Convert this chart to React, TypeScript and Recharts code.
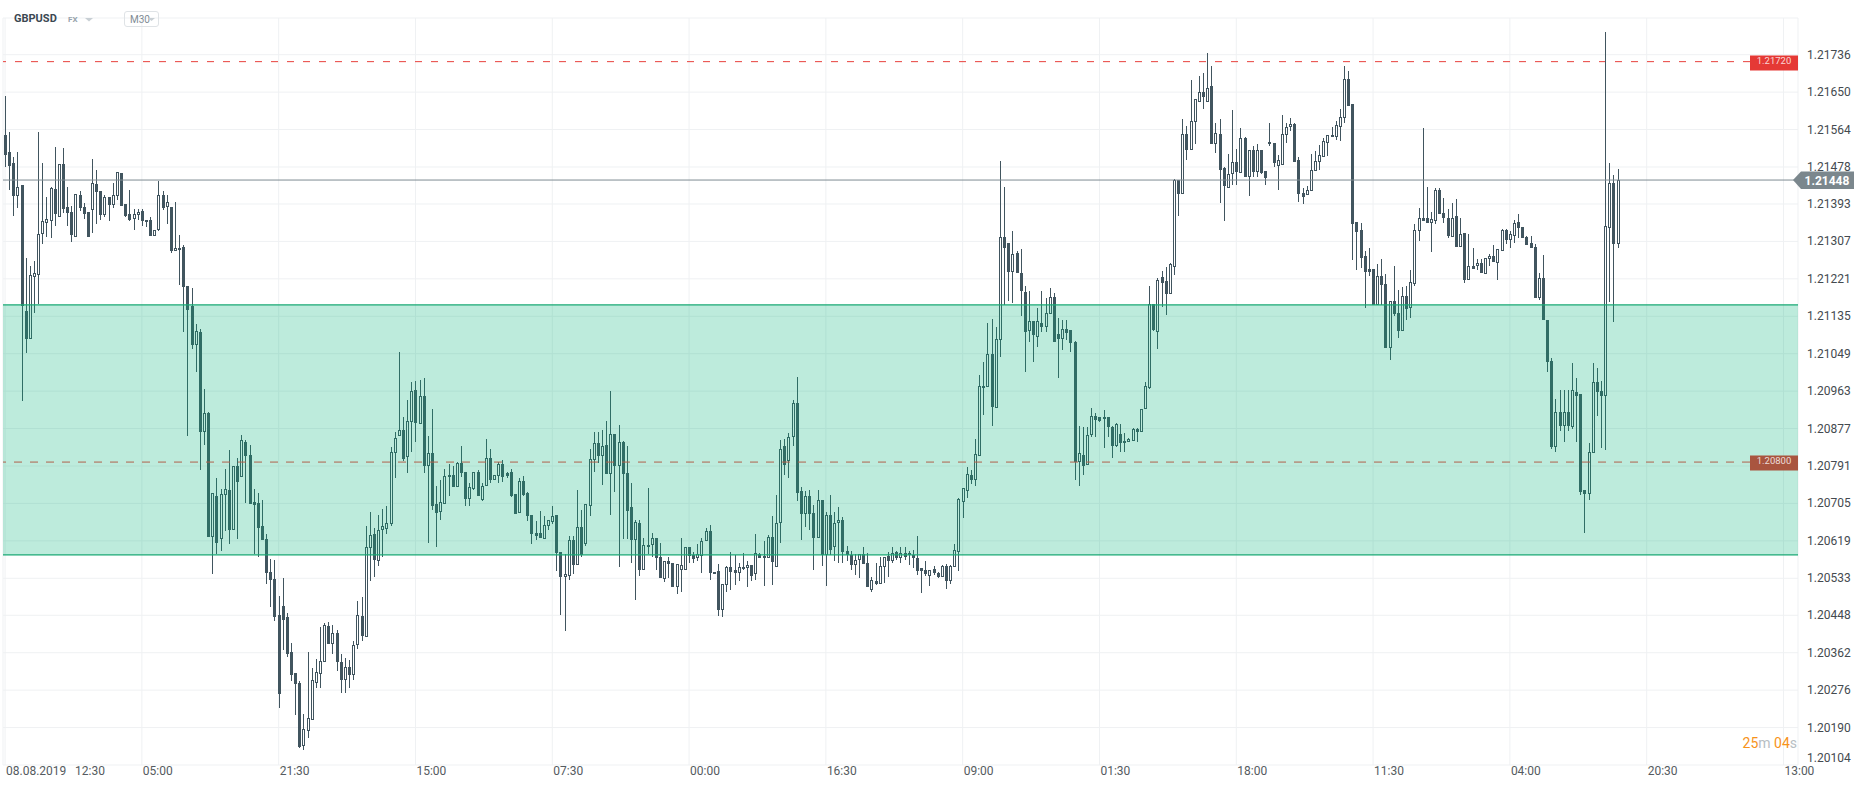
import { ComposedChart, Bar, XAxis, YAxis, CartesianGrid, ReferenceArea, ReferenceLine } from 'recharts';

// GBPUSD, M30 candles: [open, high, low, close]
type Ohlc = [number, number, number, number];

// 08.08 12:30 -> weekend low
const candlesA: Ohlc[] = [
  [1.21551, 1.2164, 1.21478, 1.21505], [1.21512, 1.21558, 1.21425, 1.21481], [1.21488, 1.215, 1.21365, 1.21412],
  [1.21412, 1.21512, 1.21383, 1.21431], [1.21436, 1.21436, 1.20941, 1.21158], [1.21148, 1.21268, 1.2105, 1.21082],
  [1.21082, 1.2125, 1.21082, 1.2123], [1.21226, 1.21263, 1.21143, 1.21235], [1.2123, 1.21558, 1.21164, 1.21325],
  [1.21323, 1.21488, 1.213, 1.21353], [1.2135, 1.21408, 1.21318, 1.21359], [1.21355, 1.21432, 1.21315, 1.21429],
  [1.21427, 1.21524, 1.21342, 1.2137], [1.21363, 1.21484, 1.21363, 1.21484], [1.21484, 1.21521, 1.21373, 1.21382],
  [1.21385, 1.21432, 1.21342, 1.21372], [1.21375, 1.21388, 1.21305, 1.21322], [1.21318, 1.21415, 1.21318, 1.21415],
  [1.21414, 1.21422, 1.21378, 1.21383], [1.21387, 1.21395, 1.21358, 1.21369], [1.21374, 1.21374, 1.21317, 1.21317],
  [1.2138, 1.21496, 1.21326, 1.21442], [1.2144, 1.2147, 1.21347, 1.21421], [1.21422, 1.21422, 1.21356, 1.21368],
  [1.21367, 1.21413, 1.21362, 1.21408], [1.21408, 1.21408, 1.21355, 1.21391], [1.21391, 1.21442, 1.21384, 1.21414],
  [1.21412, 1.21467, 1.21401, 1.21467], [1.21464, 1.21464, 1.21388, 1.21388], [1.21392, 1.21394, 1.21363, 1.21366],
  [1.21371, 1.21424, 1.21354, 1.21357], [1.21358, 1.21382, 1.21333, 1.21371], [1.21368, 1.21382, 1.21357, 1.21375],
  [1.21376, 1.21381, 1.21342, 1.21355], [1.21356, 1.21356, 1.2134, 1.21352], [1.21357, 1.21362, 1.2132, 1.2132],
  [1.2132, 1.21333, 1.2132, 1.21333], [1.21333, 1.21446, 1.21331, 1.21413], [1.21413, 1.21422, 1.2138, 1.21383],
  [1.21387, 1.21413, 1.21348, 1.21397], [1.21385, 1.21387, 1.2128, 1.21285], [1.21286, 1.21397, 1.21286, 1.21291],
  [1.21288, 1.21321, 1.21206, 1.21293], [1.21295, 1.21298, 1.21098, 1.21202], [1.21204, 1.21204, 1.2086, 1.21149],
  [1.21158, 1.212, 1.2106, 1.21068], [1.21068, 1.21118, 1.21006, 1.21101], [1.21098, 1.21106, 1.20782, 1.2087],
  [1.20868, 1.20968, 1.2084, 1.20912], [1.20912, 1.20916, 1.20628, 1.20628], [1.20628, 1.20728, 1.20542, 1.20728],
  [1.20721, 1.20764, 1.20588, 1.20615], [1.20623, 1.20738, 1.20596, 1.20726], [1.20725, 1.20783, 1.20641, 1.20737],
  [1.20735, 1.20828, 1.20612, 1.20645], [1.20645, 1.20791, 1.20645, 1.20791], [1.2079, 1.2081, 1.20623, 1.20755],
  [1.20766, 1.20862, 1.20766, 1.2085], [1.20847, 1.2085, 1.20706, 1.20813], [1.20816, 1.2084, 1.20704, 1.20704],
  [1.20708, 1.20738, 1.20588, 1.20702], [1.20707, 1.20728, 1.20583, 1.20648], [1.20652, 1.20712, 1.20622, 1.20622],
  [1.20624, 1.20634, 1.2052, 1.20545], [1.20548, 1.20578, 1.20468, 1.20528], [1.20531, 1.20574, 1.20436, 1.20445],
  [1.20449, 1.20493, 1.20236, 1.20268], [1.2047, 1.20534, 1.20368, 1.20437], [1.20444, 1.20454, 1.20352, 1.20358],
  [1.20364, 1.20384, 1.20298, 1.2031], [1.20316, 1.20316, 1.2022, 1.2029], [1.20293, 1.20298, 1.20144, 1.20146],
  [1.20148, 1.20222, 1.20138, 1.20186], [1.20183, 1.20364, 1.20166, 1.20211], [1.20208, 1.20328, 1.20208, 1.203],
  [1.20293, 1.20348, 1.20281, 1.20318], [1.20312, 1.2042, 1.20281, 1.20342], [1.2034, 1.2043, 1.2034, 1.20426],
  [1.20424, 1.20432, 1.20381, 1.20381],
];

// recovery into the zone
const candlesB: Ohlc[] = [
  [1.20381, 1.20425, 1.2036, 1.20407], [1.20407, 1.20415, 1.2032, 1.2034], [1.2034, 1.2036, 1.2027, 1.203],
  [1.203, 1.2035, 1.2027, 1.2033], [1.2033, 1.20345, 1.2028, 1.2031], [1.2031, 1.2039, 1.203, 1.2038],
  [1.2038, 1.20481, 1.2037, 1.20449], [1.20447, 1.20491, 1.2039, 1.20401], [1.20399, 1.20654, 1.20399, 1.20605],
  [1.20602, 1.20686, 1.20526, 1.20633], [1.20635, 1.20649, 1.20535, 1.20574], [1.20572, 1.20679, 1.20562, 1.20644],
  [1.20643, 1.20692, 1.20583, 1.20653], [1.20647, 1.20698, 1.20634, 1.2066], [1.20657, 1.20834, 1.20652, 1.20824],
  [1.20821, 1.2087, 1.20763, 1.20856], [1.20859, 1.21052, 1.20859, 1.20874], [1.20874, 1.20903, 1.20803, 1.20808],
  [1.20811, 1.20943, 1.20775, 1.20895], [1.20893, 1.20983, 1.20824, 1.20964], [1.20966, 1.20987, 1.20846, 1.2089],
  [1.20888, 1.20988, 1.20888, 1.20952], [1.20952, 1.20993, 1.20775, 1.2079], [1.2079, 1.2086, 1.20614, 1.20821],
  [1.20821, 1.20922, 1.20689, 1.207], [1.20704, 1.20745, 1.20606, 1.20683], [1.20685, 1.20758, 1.20666, 1.20708],
  [1.20703, 1.20784, 1.20703, 1.20769], [1.20765, 1.20796, 1.20723, 1.20771], [1.20771, 1.2079, 1.20742, 1.20742],
  [1.20742, 1.208, 1.20742, 1.20798], [1.20798, 1.20837, 1.20765, 1.20775], [1.20777, 1.20777, 1.207, 1.20716],
  [1.20716, 1.20752, 1.20698, 1.20742], [1.20739, 1.20777, 1.20736, 1.20777], [1.20777, 1.20782, 1.20721, 1.20721],
  [1.20712, 1.20752, 1.2071, 1.20745], [1.20746, 1.20854, 1.20744, 1.20809], [1.20809, 1.20831, 1.20752, 1.20758],
  [1.20758, 1.2077, 1.20758, 1.2077], [1.20769, 1.20801, 1.20753, 1.20796], [1.20796, 1.20805, 1.20755, 1.20765],
  [1.20775, 1.20778, 1.20763, 1.20769], [1.20777, 1.20784, 1.20719, 1.20723], [1.20727, 1.20727, 1.20681, 1.20681],
  [1.20683, 1.20763, 1.20683, 1.20757], [1.20757, 1.20769, 1.20723, 1.20725], [1.20729, 1.20731, 1.20664, 1.20675],
  [1.20679, 1.20679, 1.20611, 1.20634], [1.20638, 1.20665, 1.2062, 1.20631], [1.20638, 1.20688, 1.20625, 1.20625],
  [1.20623, 1.20677, 1.20623, 1.20655], [1.20652, 1.20667, 1.20644, 1.20667], [1.20663, 1.207, 1.20657, 1.20676],
  [1.20679, 1.20679, 1.20549, 1.2059], [1.20594, 1.20594, 1.20449, 1.20536], [1.20536, 1.20589, 1.20411, 1.20543],
  [1.20538, 1.20631, 1.20528, 1.20621], [1.20621, 1.20631, 1.20543, 1.20564], [1.20564, 1.20736, 1.20564, 1.20651],
  [1.20651, 1.2069, 1.20583, 1.20587], [1.20612, 1.20704, 1.20608, 1.20704], [1.207, 1.20831, 1.20675, 1.20807],
  [1.20805, 1.2087, 1.20778, 1.20844], [1.20844, 1.2087, 1.20798, 1.20814], [1.20814, 1.20874, 1.20748, 1.20837],
  [1.2084, 1.20895, 1.20773, 1.20773], [1.20773, 1.20964, 1.20679, 1.20864], [1.20864, 1.20864, 1.20731, 1.2079],
  [1.2079, 1.20886, 1.20559, 1.20847], [1.20847, 1.20849, 1.20624, 1.20772], [1.20775, 1.20836, 1.20624, 1.20688],
  [1.20696, 1.20752, 1.20569, 1.2062], [1.2062, 1.20667, 1.20482, 1.20662], [1.2066, 1.20667, 1.20539, 1.20551],
  [1.20551, 1.20625, 1.20551, 1.20609], [1.20604, 1.2074, 1.20589, 1.20609],
];

// sideways along the bottom of the zone
const candlesC: Ohlc[] = [
  [1.20609, 1.20636, 1.20582, 1.20625], [1.20625, 1.20625, 1.20552, 1.20579], [1.20581, 1.20613, 1.20533, 1.20533],
  [1.20531, 1.20573, 1.20525, 1.20573], [1.20573, 1.20582, 1.20534, 1.20566], [1.20569, 1.20569, 1.20514, 1.20514],
  [1.20512, 1.20565, 1.20497, 1.20565], [1.20553, 1.20625, 1.20501, 1.20564], [1.20552, 1.20605, 1.20552, 1.20605],
  [1.20604, 1.20604, 1.20569, 1.20584], [1.20586, 1.20594, 1.20569, 1.20577], [1.20579, 1.20611, 1.20573, 1.20588],
  [1.20584, 1.20625, 1.20544, 1.20619], [1.20619, 1.20648, 1.20619, 1.20642], [1.20642, 1.20655, 1.20529, 1.20544],
  [1.20544, 1.20548, 1.20544, 1.20548], [1.2055, 1.20565, 1.20446, 1.20461], [1.20461, 1.20519, 1.20443, 1.20519],
  [1.20517, 1.20561, 1.20501, 1.20559], [1.20559, 1.20594, 1.20506, 1.20548], [1.20552, 1.20586, 1.20517, 1.20546],
  [1.20546, 1.20567, 1.20527, 1.20558], [1.20554, 1.20592, 1.20552, 1.2056], [1.20557, 1.20573, 1.20514, 1.20564],
  [1.20563, 1.20563, 1.20527, 1.20539], [1.20542, 1.20634, 1.2053, 1.2059], [1.20588, 1.2059, 1.20579, 1.2058],
  [1.20585, 1.20618, 1.20516, 1.20579], [1.20579, 1.20632, 1.20579, 1.20627], [1.20627, 1.20676, 1.20517, 1.20571],
  [1.20559, 1.20724, 1.20559, 1.20661], [1.20659, 1.20851, 1.20613, 1.20831], [1.20837, 1.20852, 1.2077, 1.20793],
  [1.20802, 1.20866, 1.20763, 1.20857], [1.20857, 1.20943, 1.20837, 1.20935], [1.20935, 1.20995, 1.20711, 1.2073],
  [1.20733, 1.20743, 1.20622, 1.2068], [1.2068, 1.20733, 1.20651, 1.20722], [1.20722, 1.20736, 1.20644, 1.2068],
  [1.20682, 1.20701, 1.20552, 1.20625], [1.20625, 1.20736, 1.20625, 1.20713], [1.20713, 1.20713, 1.20561, 1.20586],
  [1.20586, 1.20686, 1.20515, 1.20678], [1.20678, 1.20724, 1.20586, 1.20599], [1.20604, 1.20686, 1.20573, 1.20659],
  [1.20659, 1.20696, 1.20567, 1.20667], [1.20667, 1.20674, 1.20567, 1.20594], [1.20596, 1.20607, 1.20573, 1.20586],
  [1.20586, 1.20596, 1.20552, 1.20563], [1.20563, 1.20588, 1.2054, 1.20576], [1.20575, 1.20588, 1.20534, 1.20588],
  [1.20588, 1.20604, 1.20566, 1.20566], [1.20567, 1.2059, 1.20512, 1.20512], [1.20506, 1.20537, 1.20502, 1.2053],
  [1.20527, 1.20567, 1.20517, 1.20521], [1.20521, 1.20583, 1.20521, 1.20561], [1.20558, 1.20583, 1.20523, 1.20583],
  [1.20584, 1.20594, 1.20537, 1.20573], [1.20573, 1.20604, 1.20567, 1.20592], [1.20594, 1.20596, 1.20576, 1.20579],
  [1.20579, 1.20605, 1.20567, 1.20592], [1.20592, 1.20604, 1.20576, 1.20582], [1.2059, 1.20596, 1.20563, 1.20586],
  [1.20586, 1.20598, 1.20556, 1.20579], [1.20579, 1.2063, 1.2054, 1.2055], [1.20556, 1.20557, 1.205, 1.2055],
  [1.20552, 1.20573, 1.20538, 1.20542], [1.20539, 1.20553, 1.20516, 1.20552], [1.20554, 1.20561, 1.2054, 1.20544],
  [1.20544, 1.20547, 1.20533, 1.20537], [1.20537, 1.20563, 1.20537, 1.20561], [1.20561, 1.20566, 1.20508, 1.20527],
  [1.20527, 1.20563, 1.20521, 1.20561], [1.20558, 1.20611, 1.20558, 1.20598], [1.20594, 1.20718, 1.2055, 1.20715],
  [1.20709, 1.2074, 1.20672, 1.2074], [1.20734, 1.20788, 1.20718, 1.20772],
];

// rally to the resistance
const candlesD: Ohlc[] = [
  [1.2077, 1.20782, 1.2075, 1.20759], [1.20759, 1.20853, 1.20745, 1.20818], [1.20813, 1.21, 1.20813, 1.20975],
  [1.20975, 1.21031, 1.20908, 1.2097], [1.20972, 1.21119, 1.20972, 1.21048], [1.21048, 1.21129, 1.20883, 1.20927],
  [1.20925, 1.21111, 1.20925, 1.21083], [1.21081, 1.21492, 1.21041, 1.21318], [1.21318, 1.21431, 1.21161, 1.21291],
  [1.21303, 1.21304, 1.21169, 1.21236], [1.21236, 1.21331, 1.21165, 1.21278], [1.2128, 1.21284, 1.21234, 1.21234],
  [1.21234, 1.2129, 1.21136, 1.21192], [1.2119, 1.21205, 1.21008, 1.211], [1.21101, 1.21192, 1.21077, 1.21124],
  [1.21124, 1.21124, 1.21031, 1.21091], [1.21087, 1.21155, 1.21064, 1.21124], [1.2112, 1.21193, 1.211, 1.2111],
  [1.21111, 1.21176, 1.211, 1.21142], [1.2114, 1.21199, 1.2114, 1.2118], [1.21179, 1.21189, 1.21077, 1.21077],
  [1.21094, 1.2113, 1.20994, 1.21083], [1.21083, 1.21127, 1.21058, 1.21105], [1.21105, 1.21127, 1.21081, 1.21096],
  [1.21104, 1.21104, 1.21054, 1.21074], [1.21075, 1.21078, 1.20759, 1.20801], [1.20801, 1.20883, 1.20745, 1.2082],
  [1.20816, 1.20881, 1.2077, 1.20791], [1.20793, 1.20881, 1.20793, 1.20862], [1.20862, 1.20924, 1.20858, 1.20906],
  [1.20907, 1.20912, 1.20858, 1.20897], [1.20903, 1.20904, 1.20893, 1.20895], [1.20898, 1.2092, 1.20832, 1.20904],
  [1.20903, 1.20904, 1.20858, 1.2088], [1.20881, 1.20884, 1.20809, 1.20837], [1.20837, 1.20889, 1.20835, 1.20888],
  [1.20865, 1.20888, 1.20822, 1.20843], [1.20843, 1.20866, 1.20822, 1.20848], [1.20847, 1.20855, 1.20847, 1.20853],
  [1.20849, 1.20879, 1.20849, 1.20876], [1.20876, 1.20879, 1.20847, 1.20868], [1.20868, 1.20923, 1.20868, 1.20923],
  [1.20921, 1.20985, 1.20921, 1.20975], [1.20971, 1.21205, 1.20967, 1.21163], [1.21163, 1.21163, 1.21102, 1.21104],
  [1.211, 1.21222, 1.21059, 1.21218], [1.21225, 1.21239, 1.21157, 1.21212], [1.21217, 1.21249, 1.21138, 1.21186],
  [1.21186, 1.21257, 1.21186, 1.21255], [1.21249, 1.21451, 1.2123, 1.21448], [1.21447, 1.21447, 1.21366, 1.21415],
  [1.21415, 1.21588, 1.21415, 1.21553], [1.21553, 1.21572, 1.21493, 1.21516], [1.21516, 1.21678, 1.21516, 1.21584],
  [1.21581, 1.21634, 1.21531, 1.21634], [1.21627, 1.21687, 1.21627, 1.2165], [1.2165, 1.21695, 1.21611, 1.21638],
  [1.21628, 1.21741, 1.21628, 1.2166], [1.21664, 1.21709, 1.2153, 1.2153], [1.2153, 1.21578, 1.2151, 1.21557],
  [1.21553, 1.21588, 1.21395, 1.21471], [1.21475, 1.21479, 1.21355, 1.21435], [1.21429, 1.21507, 1.21429, 1.21461],
  [1.21461, 1.21609, 1.21437, 1.2149], [1.2149, 1.21519, 1.21437, 1.21466], [1.21465, 1.21567, 1.21465, 1.21544],
  [1.21544, 1.21546, 1.21454, 1.21454], [1.21454, 1.21517, 1.21412, 1.21517], [1.21517, 1.21526, 1.21456, 1.21466],
  [1.21466, 1.21531, 1.21454, 1.21517], [1.21517, 1.21517, 1.21461, 1.21464], [1.21469, 1.21469, 1.21437, 1.21452],
  [1.21535, 1.21578, 1.21527, 1.2153], [1.21533, 1.21533, 1.21477, 1.21487], [1.21481, 1.21506, 1.21424, 1.21494],
  [1.21483, 1.21598, 1.21483, 1.21554], [1.21552, 1.21578, 1.21533, 1.21571],
];

// second test of resistance, drop, spike
const candlesE: Ohlc[] = [
  [1.2157, 1.2159, 1.2156, 1.21576], [1.21576, 1.21578, 1.2149, 1.2149], [1.21494, 1.215, 1.21397, 1.21415],
  [1.21419, 1.2143, 1.21394, 1.2141], [1.21413, 1.21434, 1.21413, 1.21424], [1.21422, 1.21508, 1.21422, 1.21471],
  [1.21468, 1.21514, 1.21468, 1.21492], [1.21489, 1.21529, 1.21471, 1.21506], [1.21501, 1.21545, 1.21501, 1.21537],
  [1.21534, 1.21551, 1.21504, 1.21551], [1.21547, 1.21571, 1.21547, 1.21552], [1.21548, 1.21584, 1.21539, 1.21574],
  [1.21571, 1.21611, 1.21537, 1.21593], [1.2159, 1.21711, 1.2158, 1.21681], [1.21681, 1.21699, 1.21617, 1.21617],
  [1.21623, 1.21623, 1.21264, 1.21346], [1.21351, 1.21351, 1.21241, 1.21329], [1.21333, 1.2135, 1.21245, 1.2127],
  [1.21274, 1.21286, 1.21153, 1.21237], [1.21244, 1.21293, 1.21227, 1.21237], [1.21244, 1.21244, 1.21161, 1.21161],
  [1.21161, 1.21254, 1.21161, 1.21227], [1.21227, 1.21266, 1.21161, 1.21207], [1.21208, 1.21231, 1.21061, 1.21061],
  [1.21061, 1.21169, 1.21034, 1.21169], [1.21169, 1.2125, 1.21136, 1.21141], [1.21143, 1.21196, 1.21085, 1.21102],
  [1.21102, 1.21202, 1.21102, 1.21181], [1.21181, 1.21204, 1.21126, 1.21151], [1.21153, 1.21241, 1.2113, 1.21213],
  [1.21208, 1.21346, 1.21204, 1.21333], [1.2133, 1.21383, 1.21307, 1.2136], [1.2136, 1.21568, 1.21355, 1.21355],
  [1.2136, 1.21432, 1.2135, 1.2135], [1.2135, 1.21374, 1.21282, 1.21358], [1.21355, 1.2143, 1.21348, 1.21424],
  [1.21424, 1.2143, 1.21371, 1.21371], [1.21373, 1.21407, 1.2135, 1.2136], [1.21361, 1.21381, 1.21314, 1.21319],
  [1.21318, 1.21396, 1.21318, 1.21361], [1.21365, 1.21404, 1.21295, 1.21295], [1.21295, 1.2136, 1.21295, 1.21323],
  [1.21327, 1.21327, 1.21211, 1.21219], [1.21219, 1.21323, 1.21219, 1.2125], [1.2125, 1.21291, 1.21244, 1.21244],
  [1.2125, 1.21266, 1.21241, 1.21258], [1.21258, 1.21266, 1.21235, 1.21235], [1.21233, 1.2127, 1.21233, 1.21268],
  [1.21266, 1.21278, 1.2125, 1.21274], [1.21274, 1.21299, 1.21259, 1.21259], [1.21258, 1.21289, 1.21218, 1.21289],
  [1.21286, 1.21336, 1.21286, 1.21333], [1.21333, 1.21336, 1.213, 1.21311], [1.21311, 1.21332, 1.21292, 1.21323],
  [1.21319, 1.21356, 1.21303, 1.2135], [1.21352, 1.2137, 1.21315, 1.21338], [1.21341, 1.21341, 1.21314, 1.21314],
  [1.21317, 1.21319, 1.21299, 1.21299], [1.21304, 1.21319, 1.21291, 1.21291], [1.21294, 1.213, 1.21176, 1.21176],
  [1.21176, 1.21235, 1.21172, 1.21223], [1.21223, 1.21276, 1.21126, 1.21126], [1.21126, 1.21126, 1.21007, 1.2103],
  [1.21032, 1.21038, 1.20831, 1.20835], [1.20835, 1.20946, 1.20823, 1.20915], [1.20915, 1.20966, 1.20871, 1.20882],
  [1.20884, 1.20966, 1.20846, 1.20915], [1.20915, 1.20966, 1.20871, 1.20882], [1.2088, 1.21028, 1.20876, 1.20966],
  [1.20962, 1.20993, 1.20847, 1.20952], [1.20956, 1.20956, 1.20724, 1.20731], [1.20735, 1.20735, 1.20636, 1.20726],
  [1.20726, 1.20843, 1.20714, 1.20823], [1.2082, 1.21028, 1.2082, 1.20983], [1.20983, 1.21016, 1.20906, 1.20962],
  [1.20964, 1.20987, 1.20833, 1.20951], [1.20951, 1.21789, 1.20827, 1.21342], [1.21337, 1.21488, 1.21167, 1.21442],
  [1.21442, 1.21459, 1.21122, 1.213], [1.213, 1.21473, 1.21291, 1.21448],
];

const startDate = '08.08.2019';
const timeTicks = [0, 33, 66, 99, 132, 165, 198, 231, 264, 297, 330, 363, 396, 429];
const timeLabels = ['12:30', '05:00', '21:30', '15:00', '07:30', '00:00', '16:30', '09:00', '01:30', '18:00', '11:30', '04:00', '20:30', '13:00'];
const priceTicks = [
  1.21736, 1.2165, 1.21564, 1.21478, 1.21393, 1.21307, 1.21221, 1.21135, 1.21049, 1.20963,
  1.20877, 1.20791, 1.20705, 1.20619, 1.20533, 1.20448, 1.20362, 1.20276, 1.2019, 1.20104,
];
const zoneLow = 1.20587;
const zoneHigh = 1.21161;
const resistance = 1.2172;
const support = 1.208;
const lastPrice = 1.21448;
const emptySlots = 43; // time axis continues past the last candle

const W = 1866;
const H = 788;
const candleColor = '#41555f';

const allCandles = [...candlesA, ...candlesB, ...candlesC, ...candlesD, ...candlesE];
const rows = [
  ...allCandles.map(([o, h, l, c], i) => ({ i, o, h, l, c, range: [l, h] })),
  ...Array.from({ length: emptySlots }, (_, k) => ({ i: allCandles.length + k, range: null })),
];

function Candle(props: any) {
  const { x, y, width, height, payload } = props;
  if (!payload || payload.o == null) return <g />;
  const { o, h, l, c } = payload;
  const top = Math.min(y, y + height);
  const bottom = Math.max(y, y + height);
  const span = h - l;
  const toY = (v: number) => (span > 0 ? top + ((h - v) / span) * (bottom - top) : top);
  const cx = Math.round(x + width / 2);
  const up = c >= o;
  let bTop = Math.round(toY(Math.max(o, c)));
  let bBot = Math.round(toY(Math.min(o, c)));
  if (up && bBot - bTop < 2) bBot = bTop + 2;
  if (!up && bBot - bTop < 1) bBot = bTop + 1;
  return (
    <g shapeRendering="crispEdges">
      <line x1={cx + 0.5} x2={cx + 0.5} y1={Math.round(top)} y2={Math.max(Math.round(bottom), bBot)} stroke={candleColor} strokeWidth={1} />
      {up ? (
        <rect x={cx - 0.5} y={bTop + 0.5} width={2} height={bBot - bTop - 1} fill="#ffffff" stroke={candleColor} strokeWidth={1} />
      ) : (
        <rect x={cx - 1} y={bTop} width={3} height={bBot - bTop} fill={candleColor} />
      )}
    </g>
  );
}

function TimeTick(props: any) {
  const { x, y, payload } = props;
  const idx = timeTicks.indexOf(payload.value);
  if (idx < 0) return <g />;
  const style = { fontSize: 12, fill: '#555b60' };
  return (
    <g>
      {idx === 0 && (
        <text x={x + 1} y={y + 10} textAnchor="start" style={style}>{startDate}</text>
      )}
      <text x={idx === 0 ? x + 70 : x + 1} y={y + 10} textAnchor="start" style={style}>{timeLabels[idx]}</text>
    </g>
  );
}

function PriceTick(props: any) {
  const { x, y, payload } = props;
  const cy = Math.min(y, H - 30);
  return (
    <text x={x + 9} y={cy + 4} textAnchor="start" style={{ fontSize: 12, fill: '#444a4f' }}>
      {Number(payload.value).toFixed(5)}
    </text>
  );
}

function LevelTag(props: any) {
  const { viewBox, fill, text } = props;
  if (!viewBox) return null;
  const right = viewBox.x + viewBox.width;
  const y = Math.round(viewBox.y);
  return (
    <g>
      <rect x={right - 48} y={y - 6.5} width={48} height={15} fill={fill} />
      <text x={right - 24} y={y + 2} textAnchor="middle" style={{ fontSize: 9.5, fill: '#ffffff', fillOpacity: 0.8 }}>{text}</text>
    </g>
  );
}

function LastPriceTag(props: any) {
  const { viewBox, text } = props;
  if (!viewBox) return null;
  const r = viewBox.x + viewBox.width;
  const y = viewBox.y;
  const pts = `${r - 5},${y} ${r + 3},${y - 8.5} ${r + 56},${y - 8.5} ${r + 56},${y + 9} ${r + 3},${y + 9}`;
  return (
    <g>
      <polygon points={pts} fill="#7b878d" />
      <text x={r + 29} y={y + 5} textAnchor="middle" style={{ fontSize: 12, fontWeight: 700, fill: '#ffffff' }}>{text}</text>
    </g>
  );
}

export default function App() {
  return (
    <div style={{ position: 'absolute', left: 0, top: 0, width: W, height: H, background: '#fff', fontFamily: 'Roboto, sans-serif', overflow: 'hidden' }}>
      <ComposedChart width={W} height={H} data={rows} margin={{ top: 18, right: 0, bottom: 0, left: 3 }} barCategoryGap={0}>
        <CartesianGrid stroke="#eff1f3" />
        <XAxis dataKey="i" type="category" ticks={timeTicks} interval={0} height={23} axisLine={false} tickLine={false} tickSize={0} tickMargin={0} tick={<TimeTick />} />
        <YAxis orientation="right" type="number" width={68} domain={[1.20104, 1.218203]} allowDataOverflow ticks={priceTicks} interval={0} axisLine={false} tickLine={false} tickSize={0} tickMargin={0} tick={<PriceTick />} />
        <ReferenceLine y={resistance} stroke="#e8413c" strokeDasharray="7 9" zIndex={250} label={<LevelTag fill="#e53935" text="1.21720" />} />
        <Bar dataKey="range" shape={<Candle />} isAnimationActive={false} />
        <ReferenceArea y1={zoneLow} y2={zoneHigh} fill="#01b278" fillOpacity={0.26} stroke="none" zIndex={350} />
        <ReferenceLine y={zoneHigh} stroke="#17a873" strokeWidth={1.2} zIndex={360} />
        <ReferenceLine y={zoneLow} stroke="#17a873" strokeWidth={1.2} zIndex={360} />
        <ReferenceLine y={support} stroke="#b0604b" strokeDasharray="8 8" zIndex={370} label={<LevelTag fill="#a9553f" text="1.20800" />} />
        <ReferenceLine y={lastPrice} stroke="#7f8c92" zIndex={380} label={<LastPriceTag text="1.21448" />} />
      </ComposedChart>

      <div style={{ position: 'absolute', left: 14, top: 12, fontSize: 11, fontWeight: 700, color: '#3b4852', lineHeight: '14px' }}>GBPUSD</div>
      <div style={{ position: 'absolute', left: 68, top: 15, fontSize: 8, fontWeight: 700, color: '#98a4ac', lineHeight: '9px' }}>FX</div>
      <svg style={{ position: 'absolute', left: 85, top: 18 }} width={9} height={5}>
        <path d="M0 0 L8 0 L4 3.5 Z" fill="#c8cfd4" />
      </svg>
      <div style={{ position: 'absolute', left: 124, top: 11, width: 35, height: 16, border: '1px solid #dfe3e6', borderRadius: 3, boxSizing: 'border-box' }}>
        <span style={{ position: 'absolute', left: 5, top: 2, fontSize: 10, color: '#7f8c95', lineHeight: '11px' }}>M30</span>
        <svg style={{ position: 'absolute', left: 23, top: 6 }} width={8} height={4}>
          <path d="M0 0 L7 0 L3.5 3 Z" fill="#c8cfd4" />
        </svg>
      </div>

      <div style={{ position: 'absolute', right: W - 1797, top: 735, fontSize: 14, lineHeight: '16px', whiteSpace: 'pre' }}>
        <span style={{ color: '#f7931a' }}>25</span>
        <span style={{ color: '#b7bec3' }}>m </span>
        <span style={{ color: '#f7931a' }}>04</span>
        <span style={{ color: '#b7bec3' }}>s</span>
      </div>
    </div>
  );
}
